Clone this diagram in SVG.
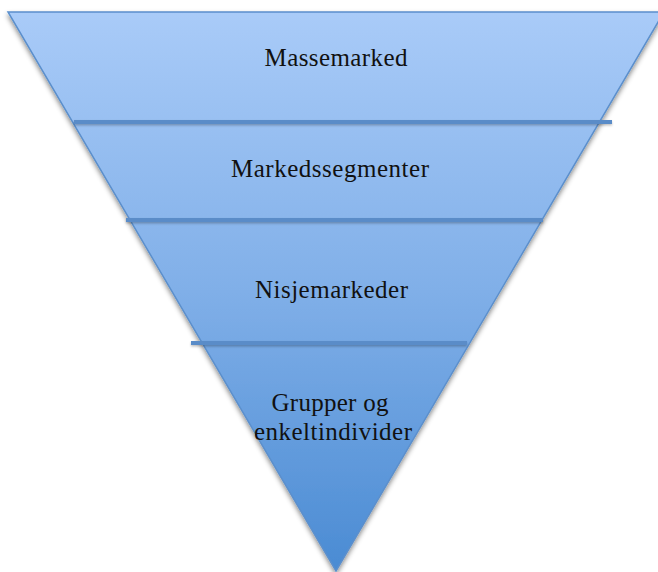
<svg xmlns="http://www.w3.org/2000/svg" width="658" height="572" viewBox="0 0 658 572">
  <defs>
    <linearGradient id="fill" x1="0" y1="12" x2="0" y2="572" gradientUnits="userSpaceOnUse">
      <stop offset="0" stop-color="#a9cbf8"/>
      <stop offset="0.5" stop-color="#80afe8"/>
      <stop offset="1" stop-color="#4a8bd3"/>
    </linearGradient>
    <filter id="shadow" x="-10%" y="-10%" width="120%" height="120%">
      <feDropShadow dx="0" dy="3" stdDeviation="2.5" flood-color="#000" flood-opacity="0.45"/>
    </filter>
    <filter id="lshadow" x="-5%" y="-100%" width="110%" height="300%">
      <feDropShadow dx="0" dy="1.5" stdDeviation="1" flood-color="#000" flood-opacity="0.25"/>
    </filter>
    <style>
      .lbl { font-family: "Liberation Serif", "Times New Roman", serif; font-size: 25px; fill: #111; text-anchor: middle; }
      .div { stroke: #5a8cc8; stroke-width: 4; fill: none; }
    </style>
  </defs>
  <g id="funnel">
    <polygon points="8,12 664,12 336,571" fill="url(#fill)" stroke="#5b8fcc" stroke-width="1.5" filter="url(#shadow)"/>
  </g>
  <g id="connectors" filter="url(#lshadow)">
    <line class="div" x1="74" y1="122" x2="612" y2="122"/>
    <line class="div" x1="126" y1="220" x2="543" y2="220"/>
    <line class="div" x1="191" y1="343" x2="467" y2="343"/>
  </g>
  <g id="level1">
    <text class="lbl" x="336" y="66" textLength="143" lengthAdjust="spacing">Massemarked</text>
  </g>
  <g id="level2">
    <text class="lbl" x="330" y="176.5" textLength="198" lengthAdjust="spacing">Markedssegmenter</text>
  </g>
  <g id="level3">
    <text class="lbl" x="331.5" y="297.5" textLength="153" lengthAdjust="spacing">Nisjemarkeder</text>
  </g>
  <g id="level4">
    <text class="lbl" x="330" y="411" textLength="117" lengthAdjust="spacing">Grupper og</text>
    <text class="lbl" x="333" y="440" textLength="158" lengthAdjust="spacing">enkeltindivider</text>
  </g>
</svg>
